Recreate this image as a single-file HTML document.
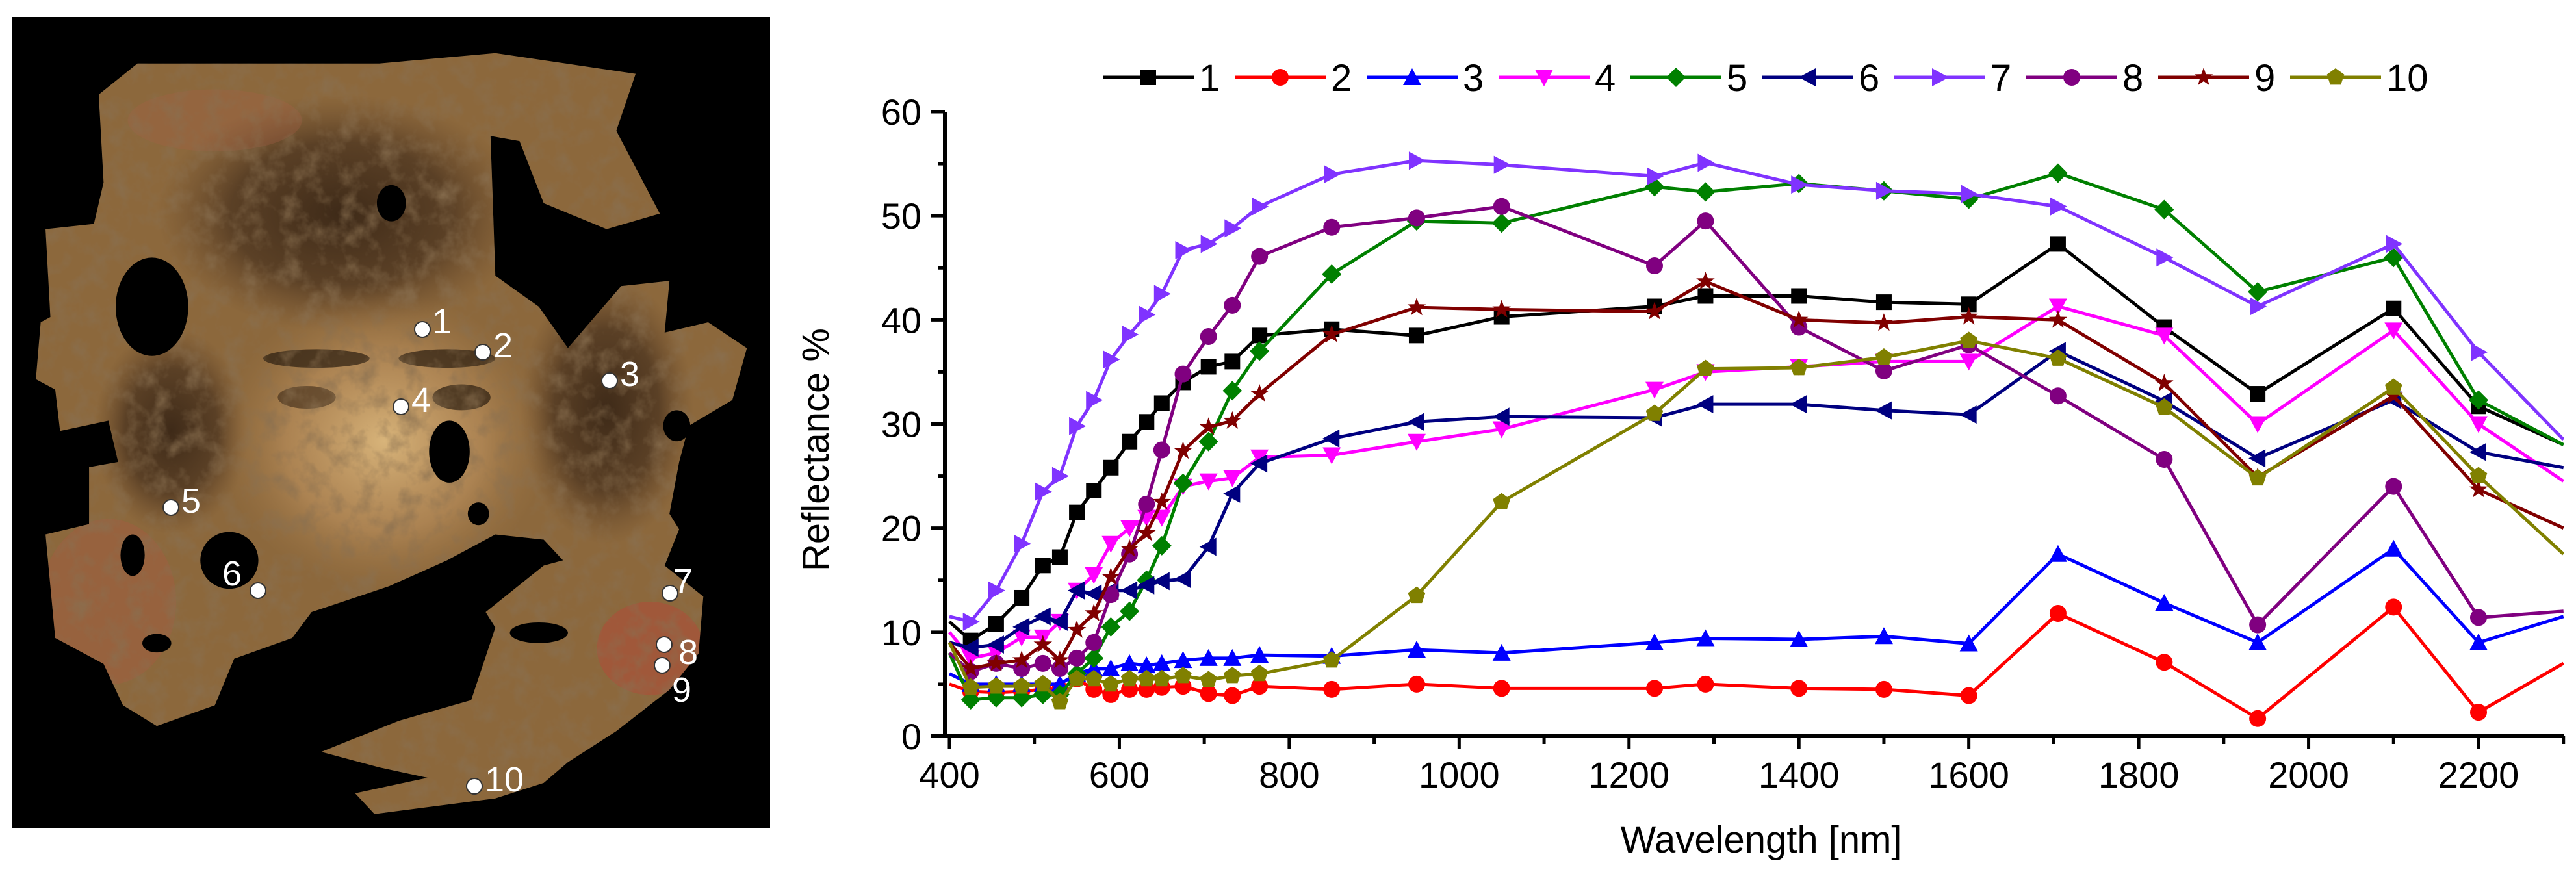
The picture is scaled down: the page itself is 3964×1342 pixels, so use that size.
<!DOCTYPE html>
<html><head><meta charset="utf-8"><style>
html,body{margin:0;padding:0;background:#fff;}
svg{display:block;font-family:"Liberation Sans",Arial,sans-serif;}
</style></head><body>
<svg id="root" width="3964" height="1342" viewBox="0 0 3964 1342" xmlns="http://www.w3.org/2000/svg">
  <defs>
    <radialGradient id="faceG" cx="0.5" cy="0.5" r="0.5">
      <stop offset="0" stop-color="#d8b47a"/><stop offset="0.6" stop-color="#c09460" stop-opacity="0.6"/><stop offset="1" stop-color="#a07848" stop-opacity="0"/>
    </radialGradient>
    <radialGradient id="hairG" cx="0.5" cy="0.5" r="0.5">
      <stop offset="0" stop-color="#3e2a18"/><stop offset="0.6" stop-color="#4e3620" stop-opacity="0.8"/><stop offset="1" stop-color="#6a4a2c" stop-opacity="0"/>
    </radialGradient>
    <clipPath id="plotClip"><rect x="1454" y="100" width="2492" height="1034"/></clipPath>
    <filter id="tex" x="0" y="0" width="100%" height="100%">
      <feTurbulence type="fractalNoise" baseFrequency="0.025" numOctaves="4" seed="3"/>
      <feColorMatrix type="matrix" values="0 0 0 0 0.25  0 0 0 0 0.16  0 0 0 0 0.08  0 0 0 1.6 -0.7"/>
    </filter>
  </defs>
  <g>
    <rect x="18" y="26" width="1167" height="1249" fill="#000"/>
    <svg x="18" y="26" width="1167" height="1249" viewBox="0 0 1568 1568" preserveAspectRatio="none">
      <defs>
        <clipPath id="fragClip"><polygon id="fragPoly" points="180,150 260,90 760,90 1000,70 1290,110 1250,220 1340,380 1230,410 1100,360 1050,240 990,230 1000,500 1090,560 1150,640 1260,520 1360,510 1350,610 1440,590 1520,640 1490,740 1400,790 1380,860 1360,960 1380,990 1350,1060 1430,1120 1420,1230 1360,1300 1250,1380 1150,1440 1100,1480 1000,1510 750,1540 710,1500 860,1470 760,1450 640,1420 800,1360 950,1320 1000,1180 980,1150 1100,1060 1140,1050 1100,1010 1000,1000 900,1050 780,1100 620,1150 580,1200 460,1240 420,1330 300,1370 230,1330 190,1250 90,1200 70,1000 160,980 160,870 220,860 200,780 100,800 90,720 50,700 60,590 80,580 70,410 170,400 190,320"/></clipPath>
      </defs>
      <g clip-path="url(#fragClip)">
        <rect x="0" y="0" width="1568" height="1568" fill="#8c683c"/>
        <ellipse cx="680" cy="380" rx="380" ry="230" fill="url(#hairG)"/>
        <ellipse cx="1230" cy="760" rx="180" ry="260" fill="url(#hairG)"/>
        <ellipse cx="330" cy="800" rx="160" ry="200" fill="url(#hairG)"/>
        <ellipse cx="770" cy="820" rx="340" ry="290" fill="url(#faceG)"/>
        <ellipse cx="200" cy="1130" rx="140" ry="160" fill="#a85a40" opacity="0.4"/>
        <ellipse cx="1320" cy="1220" rx="110" ry="90" fill="#b04a38" opacity="0.55"/>
        <ellipse cx="420" cy="200" rx="180" ry="60" fill="#a86048" opacity="0.3"/>
        <ellipse cx="630" cy="660" rx="110" ry="18" fill="#2a1c10" opacity="0.7"/>
        <ellipse cx="900" cy="660" rx="100" ry="18" fill="#2a1c10" opacity="0.7"/>
        <ellipse cx="610" cy="735" rx="60" ry="22" fill="#3a2818" opacity="0.6"/>
        <ellipse cx="930" cy="735" rx="60" ry="25" fill="#2a1c10" opacity="0.7"/>
        <rect x="0" y="0" width="1568" height="1568" filter="url(#tex)"/>
      </g>
      <ellipse cx="290" cy="560" rx="75" ry="95" fill="#000"/>
      <ellipse cx="450" cy="1050" rx="60" ry="55" fill="#000"/>
      <ellipse cx="905" cy="840" rx="42" ry="60" fill="#000"/>
      <ellipse cx="785" cy="360" rx="30" ry="35" fill="#000"/>
      <ellipse cx="1375" cy="790" rx="28" ry="30" fill="#000"/>
      <ellipse cx="965" cy="960" rx="22" ry="22" fill="#000"/>
      <ellipse cx="250" cy="1040" rx="25" ry="40" fill="#000"/>
      <ellipse cx="1090" cy="1190" rx="60" ry="20" fill="#000"/>
      <ellipse cx="300" cy="1210" rx="30" ry="18" fill="#000"/>
    </svg>
    <g id="spots" font-size="54" fill="#fff"></g>
  </g>
  <g id="chart"></g>
</svg>
<script>
const NS='http://www.w3.org/2000/svg';
const wavelengths=[400,425,455,485,510,530,550,570,590,612,632,650,675,705,733,765,850,950,1050,1230,1290,1400,1500,1600,1705,1830,1940,2100,2200,2300];
const s1=[11,9.2,10.8,13.3,16.4,17.2,21.5,23.6,25.8,28.3,30.2,32,34,35.5,36,38.5,39.1,38.5,40.3,41.3,42.3,42.3,41.7,41.5,47.3,39.3,32.9,41.1,31.7,28];
const s2=[5,4.3,4.2,4.3,4.5,4.5,5.5,4.5,4,4.5,4.5,4.7,4.8,4.1,3.9,4.8,4.5,5,4.6,4.6,5,4.6,4.5,3.9,11.8,7.1,1.7,12.4,2.3,7];
const s3=[6,5,5,5,5,5,6,6.5,6.5,7,6.8,7,7.3,7.5,7.5,7.8,7.7,8.3,8,9,9.4,9.3,9.6,8.9,17.5,12.8,9,18,9,11.5];
const s4=[10,7.5,8,9.5,9.5,11,14,15.5,18.5,20,21,21,24,24.5,24.8,26.8,27,28.3,29.5,33.3,35,35.5,36,36,41.3,38.5,30,39,30,24.5];
const s5=[8,3.5,3.7,3.7,4,4,6,7.5,10.5,12,15,18.3,24.3,28.3,33.2,37,44.4,49.5,49.3,52.8,52.3,53.1,52.4,51.6,54.1,50.6,42.7,46,32.3,28];
const s6=[9,8.5,8.8,10.5,11.5,11,14,13.7,14,14,14.5,14.9,15.1,18.2,23.3,26.2,28.6,30.2,30.7,30.6,31.9,31.9,31.3,30.9,37,32.2,26.7,32.3,27.3,25.8];
const s7=[11.5,11,14,18.5,23.5,25,29.8,32.3,36.2,38.6,40.5,42.5,46.7,47.3,48.8,50.9,54,55.3,54.9,53.8,55.1,53,52.4,52.1,50.9,46,41.3,47.3,36.9,28.5];
const s8=[8,6.2,7,6.5,7,6.5,7.5,9,13.6,17.5,22.3,27.5,34.8,38.4,41.4,46.1,48.9,49.8,50.9,45.2,49.5,39.3,35.1,37.6,32.7,26.6,10.7,24,11.4,12];
const s9=[9,6.5,7,7.3,8.8,7.3,10.2,11.8,15.3,18,19.5,22.5,27.4,29.7,30.3,32.9,38.6,41.2,41,40.8,43.7,40,39.7,40.3,40,33.9,24.9,32.7,23.7,20];
const s10=[9,4.7,4.8,4.8,5,3.3,5.5,5.5,5,5.5,5.5,5.5,5.8,5.4,5.8,6,7.3,13.5,22.5,31,35.3,35.4,36.4,38,36.3,31.6,24.8,33.5,25,17.5];
const seriesNames=['1','2','3','4','5','6','7','8','9','10'];
const xTicks=[400,600,800,1000,1200,1400,1600,1800,2000,2200];
const yTicks=[0,10,20,30,40,50,60];

const allSeries=[s1,s2,s3,s4,s5,s6,s7,s8,s9,s10];
const colors=['#000000','#ff0000','#0000ff','#ff00ff','#008000','#000080','#8033ff','#800080','#800000','#808000'];
const shapes=['square','circle','up','down','diamond','left','right','circle','star','pentagon'];
const X=v=>1461+(v-400)*(3814-1461)/1800;
const Y=v=>1133-v*(1133-172)/60;
function el(tag,attrs,parent){const e=document.createElementNS(NS,tag);for(const k in attrs)e.setAttribute(k,attrs[k]);parent.appendChild(e);return e;}
const chart=document.getElementById('chart');

// photo spots
const spots=[[650,507,'1'],[743,542,'2'],[938,586,'3'],[617,626,'4'],[263,781,'5'],[397,909,'6'],[1031,913,'7'],[1022,992,'8'],[1019,1024,'9'],[730,1210,'10']];
const spotLabelOff={'1':[15,-4],'6':[-55,-18],'7':[5,-10],'8':[22,20],'9':[15,46]};
const sg=document.getElementById('spots');
spots.forEach(p=>{
  const c=el('circle',{cx:p[0],cy:p[1],r:12,fill:'#fff',stroke:'#333','stroke-width':2},sg);
  
  
  const o=spotLabelOff[p[2]]||[16,-2];
  const t=el('text',{x:p[0]+o[0],y:p[1]+o[1]+10},sg);t.textContent=p[2];
  
  
});

// axes
const axes=el('g',{stroke:'#000','stroke-width':6,fill:'none'},chart);


el('line',{x1:1454,y1:172,x2:1454,y2:1136},axes);
el('line',{x1:1433,y1:1133,x2:3945,y2:1133},axes);
for(let v=0;v<=60;v+=5){const major=v%10===0;el('line',{x1:major?1433:1443,y1:Y(v),x2:1454,y2:Y(v),'stroke-width':5},axes);}
for(let v=400;v<=2300;v+=100){const major=v%200===0;el('line',{x1:X(v),y1:1133,x2:X(v),y2:major?1153:1145,'stroke-width':5},axes);}
yTicks.forEach(v=>{const t=el('text',{x:1418,y:Y(v)+20,'font-size':56,'text-anchor':'end',fill:'#000'},chart);t.textContent=v;
  
  });
xTicks.forEach(v=>{const t=el('text',{x:X(v),y:1212,'font-size':56,'text-anchor':'middle',fill:'#000'},chart);t.textContent=v;
  
  });
const xt=el('text',{x:2710,y:1312,'font-size':58,'text-anchor':'middle',fill:'#000'},chart);xt.textContent='Wavelength [nm]';


const yt=el('text',{x:0,y:0,'font-size':58,'text-anchor':'middle',fill:'#000',transform:'translate(1275,692) rotate(-90)'},chart);yt.textContent='Reflectance %';



function marker(shape,x,y,color,parent){
  const s=12;let e;
  if(shape==='square')e=el('rect',{x:x-s,y:y-s,width:2*s,height:2*s},parent);
  else if(shape==='circle')e=el('circle',{cx:x,cy:y,r:s+1},parent);
  else{let pts;
    if(shape==='up')pts=[[0,-s-2],[s+2,s],[-s-2,s]];
    else if(shape==='down')pts=[[0,s+2],[s+2,-s],[-s-2,-s]];
    else if(shape==='left')pts=[[-s-2,0],[s,-s-2],[s,s+2]];
    else if(shape==='right')pts=[[s+2,0],[-s,-s-2],[-s,s+2]];
    else if(shape==='diamond')pts=[[0,-s-3],[s+3,0],[0,s+3],[-s-3,0]];
    else if(shape==='pentagon'||shape==='star'){pts=[];const n=shape==='star'?10:5;
      for(let i=0;i<n;i++){const a=-Math.PI/2+i*2*Math.PI/n;const r=shape==='star'?(i%2?s*0.5:s+3):s+2;pts.push([r*Math.cos(a),r*Math.sin(a)]);}}
    e=el('polygon',{points:pts.map(p=>(x+p[0])+','+(y+p[1])).join(' ')},parent);}
  e.setAttribute('fill',color);
  return e;
}

const plot=el('g',{'clip-path':'url(#plotClip)'},chart);


allSeries.forEach((data,i)=>{
  const g=el('g',{},plot);
  
  
  const pl=el('polyline',{points:data.map((v,j)=>X(wavelengths[j])+','+Y(v)).join(' '),fill:'none',stroke:colors[i],'stroke-width':5,'stroke-linejoin':'round'},g);
  
  
  data.forEach((v,j)=>{if(j===0||j===data.length-1)return;
    const m=marker(shapes[i],X(wavelengths[j]),Y(v),colors[i],g);
    
    });
});

// legend
const lg=el('g',{},chart);


seriesNames.forEach((n,i)=>{
  const x0=1697+i*203;
  const g=el('g',{},lg);
  
  
  el('line',{x1:x0,y1:119,x2:x0+140,y2:119,stroke:colors[i],'stroke-width':5},g);
  marker(shapes[i],x0+70,119,colors[i],g);
  const t=el('text',{x:x0+148,y:140,'font-size':58,fill:'#000'},g);t.textContent=n;
  
  
});
</script>
</body></html>
